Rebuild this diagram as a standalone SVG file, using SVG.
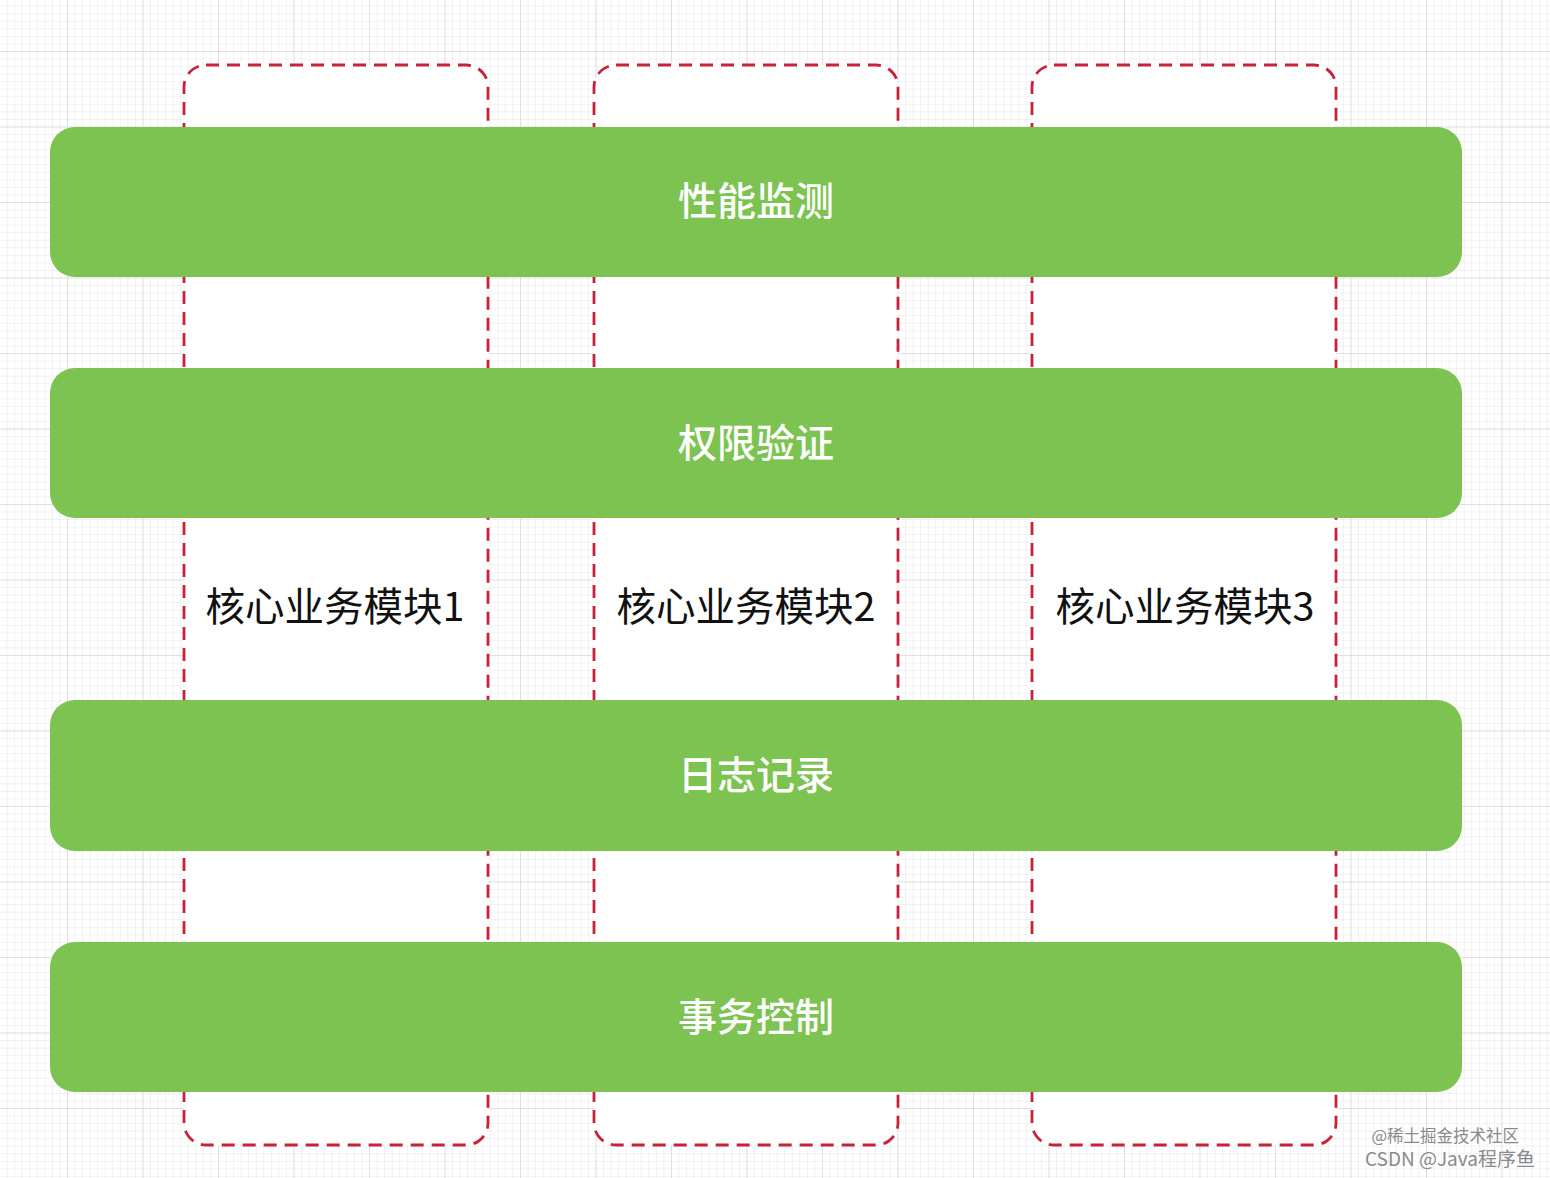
<svg xmlns="http://www.w3.org/2000/svg" width="1550" height="1178" viewBox="0 0 1550 1178">
<style>
.col{fill:#ffffff;stroke:#c8213a;stroke-width:2.8;stroke-dasharray:13 8}
.bar{fill:#7dc351}
.bl{font-family:"Noto Sans CJK SC","Noto Sans",sans-serif;font-size:39px;font-weight:500;fill:#ffffff;text-anchor:middle;dominant-baseline:central}
.ml{font-family:"Noto Sans CJK SC","Noto Sans",sans-serif;font-size:39.5px;fill:#111111;text-anchor:middle;dominant-baseline:central}
.wm{font-family:"Noto Sans CJK SC","Noto Sans",sans-serif;fill:#8a8a8a;text-anchor:end}
</style>
<defs>
<pattern id="minor" patternUnits="userSpaceOnUse" x="67" y="51" width="7.55" height="7.55">
<path d="M0 0V7.55M0 0H7.55" fill="none" stroke="#e4e4e4" stroke-width="1"/>
</pattern>
<pattern id="major" patternUnits="userSpaceOnUse" x="67" y="51" width="75.5" height="75.5">
<path d="M0 0V75.5M0 0H75.5" fill="none" stroke="#cfcfcf" stroke-width="1"/>
</pattern>
</defs>
<rect width="1550" height="1178" fill="#ffffff"/>
<rect width="1550" height="1178" fill="url(#minor)"/>
<rect width="1550" height="1178" fill="url(#major)"/>
<g id="module1">
<rect class="col" x="184" y="65" width="304" height="1080" rx="22"/>
<text class="ml" x="335" y="603">核心业务模块1</text>
</g>
<g id="module2">
<rect class="col" x="594" y="65" width="304" height="1080" rx="22"/>
<text class="ml" x="746" y="603">核心业务模块2</text>
</g>
<g id="module3">
<rect class="col" x="1032" y="65" width="304" height="1080" rx="22"/>
<text class="ml" x="1185" y="603">核心业务模块3</text>
</g>
<g id="perf">
<rect class="bar" x="50" y="127" width="1412" height="150" rx="25"/>
<text class="bl" x="756" y="198">性能监测</text>
</g>
<g id="auth">
<rect class="bar" x="50" y="368" width="1412" height="150" rx="25"/>
<text class="bl" x="756" y="440">权限验证</text>
</g>
<g id="log">
<rect class="bar" x="50" y="700" width="1412" height="151" rx="25"/>
<text class="bl" x="756" y="772">日志记录</text>
</g>
<g id="tx">
<rect class="bar" x="50" y="942" width="1412" height="150" rx="25"/>
<text class="bl" x="756" y="1014">事务控制</text>
</g>
<g id="connectors"></g>
<g id="watermark">
<text class="wm" x="1519" y="1142" font-size="16.5">@稀土掘金技术社区</text>
<text class="wm" x="1535" y="1166" font-size="19">CSDN @Java程序鱼</text>
</g>
</svg>
